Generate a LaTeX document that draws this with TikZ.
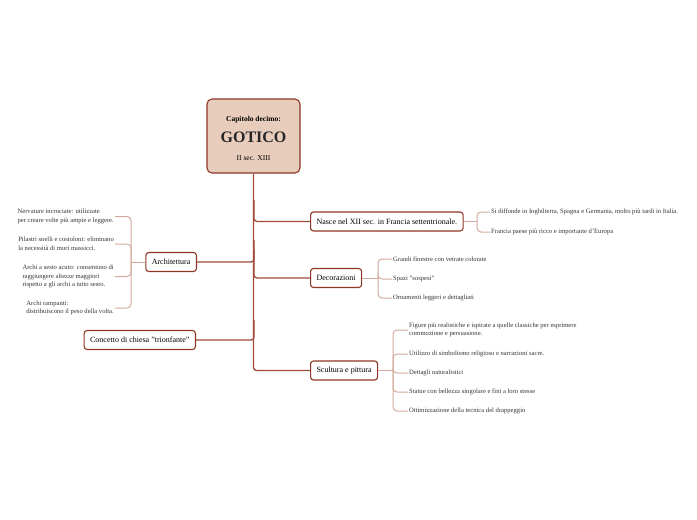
\documentclass[tikz,border=0pt]{standalone}
\usepackage{fontspec}
\setmainfont{Liberation Serif}
\definecolor{brd}{HTML}{8E3526}
\definecolor{trunkc}{HTML}{A04A3A}
\definecolor{brk}{HTML}{D2AA9C}
\definecolor{mainfill}{HTML}{E8CDBC}
\definecolor{txt}{HTML}{333333}
\begin{document}
\begin{tikzpicture}[x=1pt,y=-1pt,
  topicbox/.style={draw=brd,line width=1.1pt,rounded corners=3pt,fill=white,minimum height=19pt,inner xsep=6pt,font=\fontsize{8}{9}\selectfont,text=black},
  leaf/.style={inner sep=1pt,font=\fontsize{6.6}{8.6}\selectfont,text=txt,align=left},
  trunk/.style={draw=trunkc,line width=1.3pt,rounded corners=3pt},
  brkline/.style={draw=brk,line width=1pt,rounded corners=4pt}]
\useasboundingbox (0,0) rectangle (697,520);
% main node
\node[draw=brd,line width=1.1pt,fill=mainfill,rounded corners=5pt,minimum width=93pt,minimum height=74pt] (main) at (253.5,136) {};
\node[font=\bfseries\fontsize{7.5}{9}\selectfont] (cap) at (253.5,120) {Capitolo decimo:};
\node[font=\bfseries\fontsize{16}{18}\selectfont,text=black!85] (got) at (253.5,137) {GOTICO};
\node[font=\fontsize{7.5}{9}\selectfont] (sec) at (253.5,158) {II sec. XIII};
% topic boxes
\node[topicbox,anchor=west] (nasce) at (310,221.5) {Nasce nel XII sec. in Francia settentrionale.};
\node[topicbox,anchor=west] (deco) at (310,278) {Decorazioni};
\node[topicbox,anchor=west] (scul) at (310,370.5) {Scultura e pittura};
\node[topicbox,anchor=east] (arch) at (197,262) {Architettura};
\node[topicbox,anchor=east] (conc) at (196,340) {Concetto di chiesa \symbol{34}trionfante\symbol{34}};
% trunk
\draw[trunk] (main.south) |- (scul.west);
\draw[trunk] (254,200) |- (nasce.west);
\draw[trunk] (254,250) |- (deco.west);
\draw[trunk] (254,240) |- (arch.east);
\draw[trunk] (254,320) |- (conc.east);
% Nasce leaves
\node[leaf,anchor=west] (n1) at (490,212) {Si diffonde in Inghilterra, Spagna e Germania, molto più tardi in Italia.};
\node[leaf,anchor=west] (n2) at (490,232) {Francia paese più ricco e importante d'Europa};
\coordinate (nb) at (477,221.5);
\draw[brkline] (nasce.east) -- (nb);
\draw[brkline] (nb) |- (n1.west);
\draw[brkline] (nb) |- (n2.west);
% Decorazioni leaves
\node[leaf,anchor=west] (d1) at (392,259) {Grandi finestre con vetrate colorate};
\node[leaf,anchor=west] (d2) at (392,279) {Spazi \symbol{34}sospesi\symbol{34}};
\node[leaf,anchor=west] (d3) at (392,298) {Ornamenti leggeri e dettagliati};
\coordinate (db) at (378,278);
\draw[brkline] (deco.east) -- (db);
\draw[brkline] (db) |- (d1.west);
\draw[brkline] (db) |- (d2.west);
\draw[brkline] (db) |- (d3.west);
% Scultura leaves
\node[leaf,anchor=west] (s1) at (408,330) {Figure più realistiche e ispirate a quelle classiche per esprimere\\commozione e persuasione.};
\node[leaf,anchor=west] (s2) at (408,354) {Utilizzo di simbolismo religioso e narrazioni sacre.};
\node[leaf,anchor=west] (s3) at (408,373) {Dettagli naturalistici};
\node[leaf,anchor=west] (s4) at (408,392) {Statue con bellezza singolare e fini a loro stesse};
\node[leaf,anchor=west] (s5) at (408,411) {Ottimizzazione della tecnica del drappeggio};
\coordinate (sb) at (393,370.5);
\draw[brkline] (scul.east) -- (sb);
\draw[brkline] (sb) |- (s1.west);
\draw[brkline] (sb) |- (s2.west);
\draw[brkline] (sb) |- (s3.west);
\draw[brkline] (sb) |- (s4.west);
\draw[brkline] (sb) |- (s5.west);
% Architettura leaves
\node[leaf,anchor=east] (a1) at (115,216.5) {Nervature incrociate: utilizzate\\per creare volte più ampie e leggere.};
\node[leaf,anchor=east] (a2) at (115,244) {Pilastri snelli e costoloni: eliminano\\la necessità di muri massicci.};
\node[leaf,anchor=east] (a3) at (115,276.5) {Archi a sesto acuto: consentono di\\raggiungere altezze maggiori\\rispetto a gli archi a tutto sesto.};
\node[leaf,anchor=east] (a4) at (115,308) {Archi rampanti:\\distribuiscono il peso della volta.};
\coordinate (ab) at (131,262);
\draw[brkline] (arch.west) -- (ab);
\draw[brkline] (ab) |- (a1.east);
\draw[brkline] (ab) |- (a2.east);
\draw[brkline] (ab) |- (a3.east);
\draw[brkline] (ab) |- (a4.east);
\end{tikzpicture}
\end{document}
